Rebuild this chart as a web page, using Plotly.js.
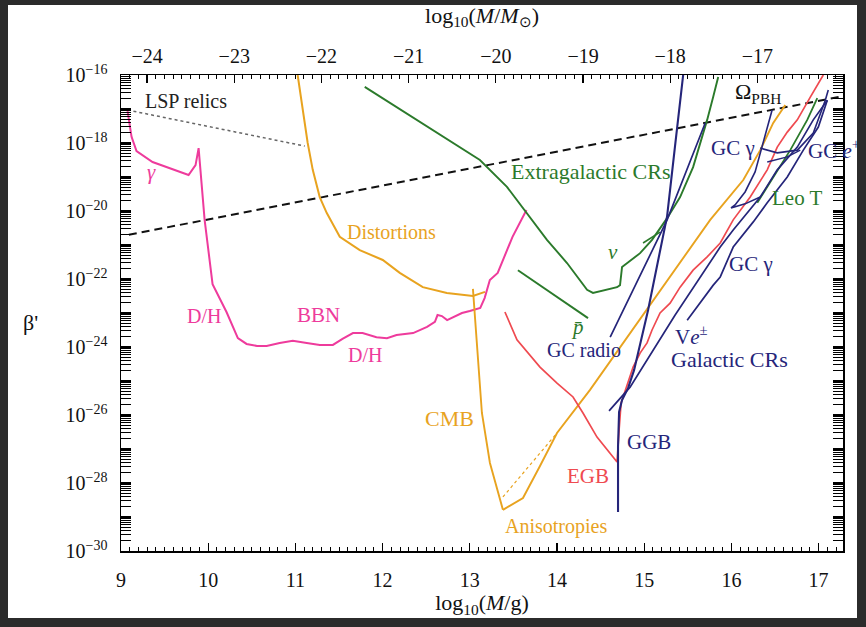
<!DOCTYPE html>
<html>
<head>
<meta charset="utf-8">
<script src="https://cdn.plot.ly/plotly-3.0.1.min.js"></script>
<style>
  html, body { margin: 0; padding: 0; background: #fff; }
  #wrap { position: relative; width: 866px; height: 627px; }
  #chart { position: absolute; left: 0; top: 0; width: 866px; height: 627px; }
  #frame { position: absolute; left: 0; top: 0; width: 866px; height: 627px; box-sizing: border-box;
           border-left: 8px solid #2b2b2b; border-top: 5px solid #2b2b2b; border-right: 9px solid #2b2b2b;
           border-bottom: 9px solid #2b2b2b; pointer-events: none; }
</style>
</head>
<body>
<div id="wrap"><div id="chart"></div><div id="frame"></div></div>
<script>
// ---- data: x = log10(M/g), y = log10(beta') ----
const lspLogM = [9.075, 11.107];
const lspLogB = [-17.03, -18.09];

const omegaLogM = [9.09, 17.28];
const omegaLogB = [-20.70, -16.62];

const bbnLogM = [9.075, 9.121, 9.178, 9.362, 9.775, 9.855, 9.890, 9.924, 9.959, 10.05, 10.21, 10.34, 10.44, 10.56, 10.67, 10.82, 10.97, 11.13, 11.28, 11.43, 11.54, 11.66, 11.77, 11.93, 12.05, 12.16, 12.35, 12.51, 12.60, 12.63, 12.68, 12.74, 12.81, 12.91, 13.00, 13.12, 13.17, 13.23, 13.32, 13.49, 13.65];
const bbnLogB = [-17.06, -17.82, -18.24, -18.56, -18.94, -18.65, -18.15, -19.29, -20.26, -22.15, -22.97, -23.74, -23.91, -23.97, -23.97, -23.88, -23.82, -23.88, -23.94, -23.94, -23.76, -23.59, -23.59, -23.71, -23.74, -23.65, -23.59, -23.41, -23.26, -23.06, -23.09, -23.21, -23.12, -23.00, -22.94, -22.85, -22.56, -22.03, -21.82, -20.76, -19.97];

const distLogM = [11.026, 11.084, 11.141, 11.199, 11.279, 11.360, 11.509, 11.738, 12.002, 12.197, 12.461, 12.737, 13.001, 13.036, 13.174];
const distLogB = [-16.0, -17.03, -18.0, -18.79, -19.59, -20.06, -20.76, -21.15, -21.44, -21.82, -22.24, -22.41, -22.47, -22.50, -22.38];

const cmbLogM = [13.036, 13.082, 13.139, 13.231, 13.380];
const cmbLogB = [-22.29, -24.0, -25.94, -27.41, -28.79];

const anisoLogM = [13.380, 13.610, 13.805, 14.0, 14.379, 15.068, 15.757, 16.136, 16.331, 16.480, 16.618];
const anisoLogB = [-28.79, -28.44, -27.50, -26.53, -25.26, -22.76, -20.26, -19.09, -18.21, -17.41, -16.88];

const anisoDotLogM = [13.38, 14.0];
const anisoDotLogB = [-28.41, -26.53];

const egcrLogM = [11.795, 12.657, 13.116, 13.426, 13.656, 13.885, 14.115, 14.264, 14.345, 14.413, 14.574, 14.689, 14.723, 14.746, 14.953, 15.09, 15.263, 15.412, 15.561, 15.665, 15.722, 15.791, 15.849];
const egcrLogB = [-16.35, -17.76, -18.50, -19.29, -20.06, -20.85, -21.53, -22.03, -22.32, -22.41, -22.32, -22.24, -22.18, -21.65, -21.24, -20.85, -20.21, -19.59, -18.71, -17.82, -17.32, -16.65, -16.06];

const nuLogM = [14.987, 15.182];
const nuLogB = [-20.94, -20.62];

const pbarLogM = [13.552, 14.356];
const pbarLogB = [-21.74, -23.15];

const leoLogM = [16.297, 16.48, 16.675, 16.87, 16.985];
const leoLogB = [-19.76, -19.0, -18.21, -17.32, -16.68];

const egbLogM = [13.403, 13.541, 13.805, 14.0, 14.184, 14.298, 14.459, 14.574, 14.689, 14.712, 14.735, 14.873, 14.953, 15.033, 15.09, 15.182, 15.297, 15.412, 15.561, 15.722, 15.872, 16.021, 16.216, 16.411, 16.526, 16.641, 16.756, 16.905, 17.054];
const egbLogB = [-22.97, -23.79, -24.59, -25.06, -25.47, -25.94, -26.65, -27.03, -27.38, -26.44, -25.65, -24.59, -24.18, -23.88, -23.5, -23.0, -22.71, -22.24, -21.74, -21.35, -20.94, -20.26, -19.59, -18.79, -18.12, -17.68, -17.32, -16.65, -16.0];

const ggbLogM = [14.70, 14.70, 14.712, 14.746, 14.815, 14.884, 15.045, 15.263, 15.355, 15.447];
const ggbLogB = [-28.85, -26.94, -25.91, -25.56, -25.21, -24.68, -22.91, -20.15, -18.06, -16.0];

const radioLogM = [14.61, 15.263, 15.70];
const radioLogB = [-23.71, -20.26, -17.41];

const galcrLogM = [14.597, 14.838, 15.355, 15.872, 16.021, 16.331, 16.526, 16.756, 16.939, 17.10];
const galcrLogB = [-25.88, -25.18, -23.06, -21.06, -20.56, -19.59, -18.79, -18.12, -17.32, -16.74];

const veLogM = [15.493, 15.643, 15.792, 15.872, 16.021, 16.251, 16.411, 16.641, 16.825, 16.997, 17.10];
const veLogB = [-23.21, -22.68, -22.18, -21.94, -21.06, -20.32, -19.76, -19.0, -18.21, -17.53, -16.74];

const gcgLogM = [16.467, 16.352, 16.272, 16.157, 16.042, 15.996, 16.157, 16.331];
const gcgLogB = [-17.03, -18.15, -18.85, -19.44, -19.82, -19.91, -19.79, -19.59];

const gceLogM = [16.331, 16.526, 16.756, 16.939, 17.077, 17.111];
const gceLogB = [-18.15, -18.29, -18.21, -17.71, -16.74, -16.44];

const gce2LogM = [16.411, 16.641, 16.79];
const gce2LogB = [-18.56, -18.41, -18.21];

// labels: text, x = log10(M/g), y = log10(beta')
const labelText = ['LSP relics', '<i>γ</i>', 'Extragalactic CRs', 'Ω<sub>PBH</sub>', 'GC γ', 'GC <i>e</i><sup>+</sup>', 'Leo T', 'Distortions', '<i>ν</i>', 'GC γ', 'D/H', 'BBN', '<i>p̄</i>', 'D/H', 'GC radio', 'V<i>e</i><sup>±</sup>', 'Galactic CRs', 'CMB', 'GGB', 'EGB', 'Anisotropies'];
const labelLogM = [9.743, 9.35, 14.379, 16.30, 16.02, 16.86, 16.445, 12.105, 14.643, 16.226, 9.947, 11.268, 14.24, 11.795, 14.31, 15.54, 15.98, 12.77, 15.056, 14.356, 13.99];
const labelLogB = [-16.76, -18.85, -18.85, -16.53, -18.15, -18.2, -19.62, -20.62, -21.2, -21.55, -23.09, -23.06, -23.41, -24.24, -24.09, -23.65, -24.38, -26.09, -26.79, -27.79, -29.29];

// y tick labels (every decade gets a major tick, every second one a label)
const yDecades = [-30, -29, -28, -27, -26, -25, -24, -23, -22, -21, -20, -19, -18, -17, -16];
const yTickText = ['10<sup>−30</sup>', '', '10<sup>−28</sup>', '', '10<sup>−26</sup>', '', '10<sup>−24</sup>', '', '10<sup>−22</sup>', '', '10<sup>−20</sup>', '', '10<sup>−18</sup>', '', '10<sup>−16</sup>'];
const yMinorMantissas = [2, 3, 4, 5, 6, 7, 8, 9];

const M_SUN_LOG10_G = 33.2986;

// ---- styles ----
const PINK = '#ee3b9c', ORANGE = '#e8a31f', GREEN = '#2b7a2b', NAVY = '#25257a', RED = '#ef4a50';
const labelColor = [ '#222', PINK, GREEN, '#111', NAVY, NAVY, GREEN, ORANGE, GREEN, NAVY, PINK, PINK, GREEN, PINK, NAVY, NAVY, NAVY, ORANGE, NAVY, RED, ORANGE];
const labelSize = [20, 21, 22, 22, 21, 21, 21, 20, 21, 21, 20, 21, 21, 20, 20, 21, 22, 22, 21, 21, 20];
const labelAnchor = ['center','center','center','center','center','left','left','center','center','center','center','center','center','center','center','center','center','center','center','center','center'];

const pw = a => a.map(v => Math.pow(10, v));
function line(xs, ys, color, width, dash) {
  return { x: xs, y: pw(ys), type: 'scatter', mode: 'lines', hoverinfo: 'skip', showlegend: false,
           line: { color: color, width: width || 1.9, dash: dash || 'solid' } };
}

const traces = [
  line(lspLogM, lspLogB, '#666', 1.5, 'dot'),
  line(omegaLogM, omegaLogB, '#111', 2, '8px,5px'),
  line(bbnLogM, bbnLogB, PINK, 2),
  line(distLogM, distLogB, ORANGE, 2),
  line(cmbLogM, cmbLogB, ORANGE, 1.9),
  line(anisoLogM, anisoLogB, ORANGE, 1.9),
  line(anisoDotLogM, anisoDotLogB, ORANGE, 1.2, 'dot'),
  line(egcrLogM, egcrLogB, GREEN, 1.9),
  line(nuLogM, nuLogB, GREEN, 1.6),
  line(pbarLogM, pbarLogB, GREEN, 1.9),
  line(leoLogM, leoLogB, GREEN, 1.8),
  line(egbLogM, egbLogB, RED, 1.7),
  line(ggbLogM, ggbLogB, NAVY, 2.1),
  line(radioLogM, radioLogB, NAVY, 1.7),
  line(galcrLogM, galcrLogB, NAVY, 1.7),
  line(veLogM, veLogB, NAVY, 1.7),
  line(gcgLogM, gcgLogB, NAVY, 1.6),
  line(gceLogM, gceLogB, NAVY, 1.6),
  line(gce2LogM, gce2LogB, NAVY, 1.4)
];

const SERIF = 'Liberation Serif, Times New Roman, serif';
const annotations = labelText.map((t, i) => ({
  text: t, x: labelLogM[i], y: labelLogB[i], xref: 'x', yref: 'y',
  showarrow: false, xanchor: labelAnchor[i], yanchor: 'middle',
  font: { family: SERIF, size: labelSize[i], color: labelColor[i] }
}));
annotations.push({
  text: 'β\'', xref: 'paper', yref: 'paper', x: -0.126, y: 0.479, xanchor: 'center', yanchor: 'middle', showarrow: false,
  font: { family: SERIF, size: 22, color: '#111' }
});

const xMin = 9, xMax = 17.28;
const axisCommon = {
  showgrid: false, zeroline: false, showline: true, linecolor: '#000', linewidth: 1.5,
  ticks: 'inside', tickcolor: '#000', tickwidth: 1.2,
  tickfont: { family: SERIF, size: 20, color: '#111' }
};

const yMinorVals = [];
yDecades.slice(0, -1).forEach(d => yMinorMantissas.forEach(k => yMinorVals.push(k * Math.pow(10, d))));

const layout = {
  width: 866, height: 627,
  margin: { l: 121, r: 23, t: 75, b: 76 },
  paper_bgcolor: '#fff', plot_bgcolor: '#fff',
  font: { family: SERIF, color: '#111' },
  xaxis: Object.assign({}, axisCommon, {
    range: [xMin, xMax], tick0: 9, dtick: 1, ticklen: 8, mirror: true,
    minor: { ticks: 'inside', dtick: 0.1, ticklen: 4, tickcolor: '#000', tickwidth: 1 },
    ticklabelstandoff: 10,
    title: { text: 'log<sub>10</sub>(<i>M</i>/g)', font: { family: SERIF, size: 22, color: '#111' }, standoff: 4 }
  }),
  xaxis2: Object.assign({}, axisCommon, {
    overlaying: 'x', side: 'top', anchor: 'y',
    range: [xMin - M_SUN_LOG10_G, xMax - M_SUN_LOG10_G], tick0: 0, dtick: 1, ticklen: 8,
    minor: { ticks: 'inside', dtick: 0.1, ticklen: 4, tickcolor: '#000', tickwidth: 1 },
    ticklabelstandoff: 3,
    title: { text: 'log<sub>10</sub>(<i>M</i>/<i>M</i><sub>⊙</sub>)', font: { family: SERIF, size: 22, color: '#111' }, standoff: 15 }
  }),
  yaxis: Object.assign({}, axisCommon, {
    type: 'log', range: [-30, -16], tickmode: 'array',
    tickvals: pw(yDecades), ticktext: yTickText, ticklen: 10, mirror: 'allticks',
    minor: { ticks: 'inside', tickmode: 'array', tickvals: yMinorVals, ticklen: 5, tickcolor: '#000', tickwidth: 1 },
    ticklabelstandoff: 8
  }),
  annotations: annotations
};

// invisible copy of the Omega line on x2 so the top axis is drawn
traces.push({ x: omegaLogM.map(v => v - M_SUN_LOG10_G), y: pw(omegaLogB), xaxis: 'x2', yaxis: 'y',
              type: 'scatter', mode: 'lines', line: { width: 0, color: 'rgba(0,0,0,0)' }, hoverinfo: 'skip', showlegend: false });

Plotly.newPlot('chart', traces, layout, { staticPlot: true, displayModeBar: false });
</script>
</body>
</html>
